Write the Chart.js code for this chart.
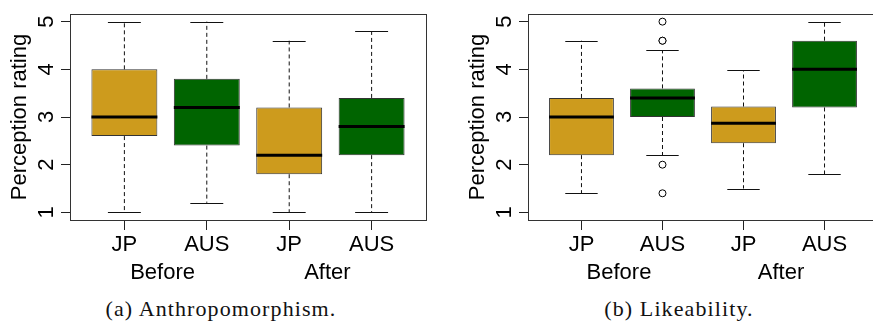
<!DOCTYPE html>
<html>
<head>
<meta charset="utf-8">
<script src="https://cdn.jsdelivr.net/npm/chart.js@4.4.1/dist/chart.umd.min.js"></script>
<style>
  html, body { margin: 0; padding: 0; background: #fff; overflow: hidden; }
  body { width: 873px; height: 322px; position: relative; }
  .painel { position: absolute; top: 0; height: 290px; overflow: hidden; }
  #painelA { left: 0; width: 436px; }
  #painelB { left: 458px; width: 415px; }
  .caption {
    position: absolute; top: 296px; width: 400px; text-align: center;
    font-family: "Liberation Serif", "DejaVu Serif", serif; font-size: 22px;
    letter-spacing: 1.1px; color: #111;
  }
  #capA { left: 21px; }
  #capB { left: 479px; }
</style>
</head>
<body>
<div class="painel" id="painelA"><canvas id="chartA" width="436" height="290"></canvas></div>
<div class="painel" id="painelB"><canvas id="chartB" width="430" height="290"></canvas></div>
<div class="caption" id="capA">(a) Anthropomorphism.</div>
<div class="caption" id="capB">(b) Likeability.</div>
<script>
document.addEventListener('DOMContentLoaded', () => {
    // categories
    const grupos = ['JP', 'AUS', 'JP', 'AUS'];
    const periodos = ['Before', 'After'];
    const cores = ['#CD9B1D', '#006400', '#CD9B1D', '#006400'];

    // (a) Anthropomorphism
    const antMin = [1.0, 1.2, 1.0, 1.0];
    const antQ1 = [2.6, 2.4, 1.8, 2.2];
    const antMed = [3.0, 3.2, 2.2, 2.8];
    const antQ3 = [4.0, 3.8, 3.2, 3.4];
    const antMax = [5.0, 5.0, 4.6, 4.8];
    const antOut = [[], [], [], []];

    // (b) Likeability
    const likMin = [1.4, 2.2, 1.5, 1.8];
    const likQ1 = [2.2, 3.0, 2.45, 3.2];
    const likMed = [3.0, 3.4, 2.87, 4.0];
    const likQ3 = [3.4, 3.6, 3.22, 4.6];
    const likMax = [4.6, 4.4, 3.98, 5.0];
    const likOut = [[], [5.0, 4.6, 4.6, 2.0, 1.4], [], []];

    const yTicks = [1, 2, 3, 4, 5];

    // sem margens automáticas nos eixos
    function semMargens(s) {
        s.paddingTop = 0; s.paddingBottom = 0;
        s.paddingLeft = 0; s.paddingRight = 0;
    }

    // desenha bigodes, medianas, moldura e rótulos dos grupos
    const boxPlugin = {
        id: 'boxExtras',
        afterDatasetsDraw(chart, args, opts) {
            const ctx = chart.ctx;
            const x = chart.scales.x, y = chart.scales.y;
            const meta = chart.getDatasetMeta(0);
            ctx.save();
            meta.data.forEach((bar, i) => {
                const cx = bar.x, w = bar.width;
                // bigodes tracejados
                ctx.strokeStyle = '#111';
                ctx.lineWidth = 1;
                ctx.setLineDash([4, 3]);
                ctx.beginPath();
                ctx.moveTo(cx, y.getPixelForValue(opts.q3[i]));
                ctx.lineTo(cx, y.getPixelForValue(opts.max[i]));
                ctx.moveTo(cx, y.getPixelForValue(opts.q1[i]));
                ctx.lineTo(cx, y.getPixelForValue(opts.min[i]));
                ctx.stroke();
                // extremos
                ctx.setLineDash([]);
                ctx.beginPath();
                [opts.max[i], opts.min[i]].forEach(v => {
                    const py = Math.round(y.getPixelForValue(v)) + 0.5;
                    ctx.moveTo(cx - w / 4, py);
                    ctx.lineTo(cx + w / 4, py);
                });
                ctx.stroke();
                // mediana
                ctx.lineWidth = 3;
                ctx.strokeStyle = '#000';
                ctx.beginPath();
                const pm = y.getPixelForValue(opts.med[i]);
                ctx.moveTo(cx - w / 2, pm);
                ctx.lineTo(cx + w / 2, pm);
                ctx.stroke();
            });
            // moldura
            const a = chart.chartArea;
            ctx.lineWidth = 1;
            ctx.strokeStyle = '#333';
            ctx.strokeRect(Math.round(a.left) + 0.5, Math.round(a.top) + 0.5,
                Math.round(a.right - a.left), Math.round(a.bottom - a.top));
            // rótulos Before / After
            ctx.fillStyle = '#000';
            ctx.font = '22px "Liberation Sans", Arial, sans-serif';
            ctx.textAlign = 'center';
            ctx.textBaseline = 'middle';
            periodos.forEach((p, k) => {
                const px = (x.getPixelForValue(2 * k + 1) + x.getPixelForValue(2 * k + 2)) / 2;
                ctx.fillText(p, px - 3, a.bottom + 53);
            });
            ctx.restore();
        }
    };

    function criarGrafico(id, minV, q1, med, q3, maxV, outs) {
        const caixas = q1.map((v, i) => ({ x: i + 1, y: [v, q3[i]] }));
        const pontos = [];
        outs.forEach((lista, i) => lista.forEach(v => pontos.push({ x: i + 1, y: v })));

        return new Chart(document.getElementById(id), {
            type: 'bar',
            data: {
                datasets: [{
                    label: 'box',
                    data: caixas,
                    backgroundColor: cores,
                    borderColor: '#333',
                    borderWidth: 1,
                    borderSkipped: false,
                    barPercentage: 0.8,
                    categoryPercentage: 1
                }, {
                    type: 'scatter',
                    label: 'outliers',
                    data: pontos,
                    pointRadius: 3.5,
                    pointBackgroundColor: '#fff',
                    pointBorderColor: '#000',
                    pointBorderWidth: 1
                }]
            },
            options: {
                responsive: false,
                animation: false,
                layout: { padding: { top: 14, right: 10, left: 0, bottom: 0 } },
                plugins: {
                    legend: { display: false },
                    tooltip: { enabled: false },
                    boxExtras: { min: minV, q1: q1, med: med, q3: q3, max: maxV }
                },
                scales: {
                    x: {
                        type: 'linear',
                        min: 0.34,
                        max: 4.66,
                        offset: false,
                        afterFit: (s) => { s.height = 70; semMargens(s); },
                        grid: { drawOnChartArea: false, offset: false, tickLength: 10, color: '#222' },
                        border: { display: false },
                        ticks: {
                            stepSize: 1,
                            includeBounds: false,
                            color: '#000',
                            padding: 2,
                            font: { family: '"Liberation Sans", Arial, sans-serif', size: 22 },
                            callback: (v) => grupos[v - 1] || ''
                        }
                    },
                    y: {
                        min: 0.84,
                        max: 5.16,
                        afterFit: (s) => { s.width = 70; semMargens(s); },
                        grid: { drawOnChartArea: false, tickLength: 9, color: '#222' },
                        border: { display: false },
                        ticks: {
                            stepSize: 1,
                            includeBounds: false,
                            minRotation: 90,
                            maxRotation: 90,
                            crossAlign: 'center',
                            padding: 8,
                            color: '#000',
                            font: { family: '"Liberation Sans", Arial, sans-serif', size: 22 },
                            callback: (v) => yTicks.includes(v) ? String(v) : ''
                        },
                        title: {
                            display: true,
                            text: 'Perception rating',
                            color: '#000',
                            padding: { top: 7, bottom: 0 },
                            font: { family: '"Liberation Sans", Arial, sans-serif', size: 22 }
                        }
                    }
                }
            },
            plugins: [boxPlugin]
        });
    }

    criarGrafico('chartA', antMin, antQ1, antMed, antQ3, antMax, antOut);
    criarGrafico('chartB', likMin, likQ1, likMed, likQ3, likMax, likOut);
});
</script>
</body>
</html>
